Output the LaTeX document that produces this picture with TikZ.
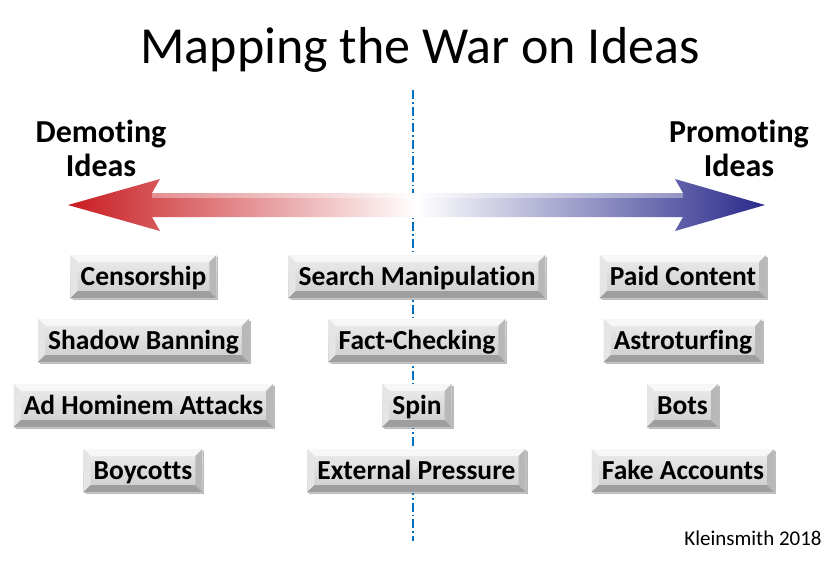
\documentclass[tikz,border=0pt]{standalone}
\usepackage{fontspec}
\setmainfont[Ligatures=NoCommon]{Carlito}
\usetikzlibrary{shadows}
\definecolor{linblue}{RGB}{0,112,192}
\definecolor{arred}{RGB}{200,28,32}
\definecolor{arblue}{RGB}{42,42,140}
\tikzset{
  bev/.style={
    shape=rectangle, inner xsep=10pt, inner ysep=10pt,
    text height=20pt, text depth=3pt,
    font=\fontsize{27.5}{30}\selectfont\bfseries,
    top color=black!7, bottom color=black!20,
    drop shadow={shadow xshift=2pt,shadow yshift=-2pt,opacity=0.45,fill=black!60},
    path picture={
      \def\bw{7pt}
      \coordinate (nw) at (path picture bounding box.north west);
      \coordinate (ne) at (path picture bounding box.north east);
      \coordinate (sw) at (path picture bounding box.south west);
      \coordinate (se) at (path picture bounding box.south east);
      \fill[black!3] (nw) -- (ne) -- ([xshift=-\bw,yshift=-\bw]ne) -- ([xshift=\bw,yshift=-\bw]nw) -- cycle;
      \fill[black!10] (nw) -- (sw) -- ([xshift=\bw,yshift=\bw]sw) -- ([xshift=\bw,yshift=-\bw]nw) -- cycle;
      \fill[black!38] (sw) -- (se) -- ([xshift=-\bw,yshift=\bw]se) -- ([xshift=\bw,yshift=\bw]sw) -- cycle;
      \fill[black!28] (ne) -- (se) -- ([xshift=-\bw,yshift=\bw]se) -- ([xshift=-\bw,yshift=-\bw]ne) -- cycle;
    }
  },
  side/.style={font=\fontsize{32}{34}\selectfont\bfseries, anchor=base, inner sep=0pt}
}
\begin{document}
\begin{tikzpicture}[x=1pt,y=-1pt]
\useasboundingbox[fill=white] (0,0) rectangle (840,566);
% title
\node[anchor=base, inner sep=0pt, font=\fontsize{52}{56}\selectfont] (title) at (420,63) {Mapping the War on Ideas};
% vertical dash-dot line
\coordinate (ltop) at (413,90);
\coordinate (lbot) at (413,541);
\draw[linblue, line width=1.4pt, dash pattern=on 9pt off 3pt on 1.5pt off 3pt] (ltop) -- (lbot);
% double arrow
\shade[left color=arred, right color=arblue, middle color=white]
  (68,205) -- (160,179) -- (152,193) -- (683,193) -- (675,179) -- (765,205)
  -- (675,231) -- (683,217) -- (152,217) -- (160,231) -- cycle;
\fill[white, opacity=0.35] (152,193) -- (683,193) -- (683,198) -- (152,198) -- cycle;
% side labels
\node[side] (dem1) at (101,142) {Demoting};
\node[side] (dem2) at (101,176) {Ideas};
\node[side] (pro1) at (739,142) {Promoting};
\node[side] (pro2) at (739,176) {Ideas};
% boxes left
\node[bev] (b1) at (143.5,276.5) {Censorship};
\node[bev] (b2) at (143.5,340.5) {Shadow Banning};
\node[bev] (b3) at (143.5,405.5) {Ad Hominem Attacks};
\node[bev] (b4) at (143,470.5) {Boycotts};
% boxes middle
\node[bev] (c1) at (417,276.5) {Search Manipulation};
\node[bev] (c2) at (417,340.5) {Fact-Checking};
\node[bev] (c3) at (417,405.5) {Spin};
\node[bev] (c4) at (416.5,470.5) {External Pressure};
% boxes right
\node[bev] (r1) at (683,276.5) {Paid Content};
\node[bev] (r2) at (683,340.5) {Astroturfing};
\node[bev] (r3) at (682.5,405.5) {Bots};
\node[bev] (r4) at (683,470.5) {Fake Accounts};
% credit
\node[anchor=base, inner sep=0pt, font=\fontsize{21}{24}\selectfont] (credit) at (753,545) {Kleinsmith 2018};
\end{tikzpicture}
\end{document}
